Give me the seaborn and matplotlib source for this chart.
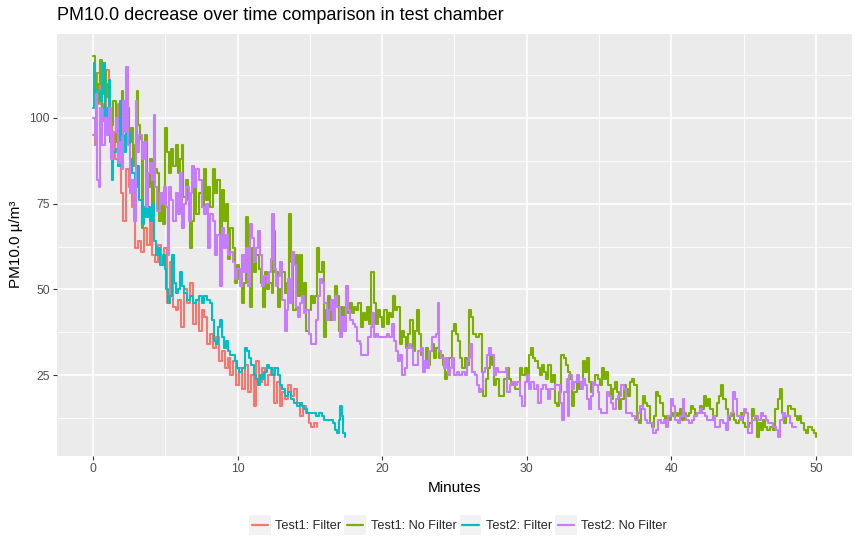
import numpy as np
import pandas as pd
import matplotlib
matplotlib.use("Agg")
import matplotlib.pyplot as plt
import seaborn as sns
from matplotlib.legend_handler import HandlerBase
from matplotlib.patches import Rectangle
from matplotlib.lines import Line2D

# ---------------- data ----------------
series_names = ["Test1: Filter", "Test1: No Filter", "Test2: Filter", "Test2: No Filter"]
series_colors = ["#F8766D", "#7CAE00", "#00BFC4", "#C77CFF"]

t1f_min = [0, 0.1, 0.3, 0.5, 0.7, 0.9, 1.1, 1.3, 1.5, 1.7, 1.9, 2.1, 2.3, 2.5, 2.7, 2.9, 3.1, 3.3, 3.5, 3.7,
           3.9, 4.1, 4.3, 4.5, 4.7, 4.9, 5.1, 5.3, 5.5, 5.7, 5.9, 6.1, 6.3, 6.5, 6.7, 6.9, 7.1, 7.3, 7.5, 7.7,
           7.9, 8.1, 8.3, 8.5, 8.7, 8.9, 9.1, 9.3, 9.5, 9.7, 9.9, 10.1, 10.3, 10.5, 10.7, 10.9, 11.1, 11.3, 11.5,
           11.7, 11.9, 12.1, 12.3, 12.5, 12.7, 12.9, 13.1, 13.3, 13.5, 13.7, 13.9, 14.1, 14.3, 14.5, 14.7, 14.9,
           15.1, 15.3, 15.5]
t1f_val = [95, 92, 113, 104, 99, 114, 103, 96, 88, 104, 78, 70, 85, 80, 74, 62, 64, 61, 68, 63,
           70, 60, 58, 63, 57, 62, 46, 58, 45, 44, 47, 39, 50, 46, 52, 40, 47, 38, 44, 42,
           34, 37, 33, 36, 29, 32, 27, 30, 25, 29, 22, 27, 21, 28, 20, 25, 16, 29, 23,
           27, 22, 25, 27, 17, 23, 16, 20, 18, 22, 19, 21, 17, 13, 16, 14, 11,
           10, 11, 10]

t1n_min = [0, 0.1, 0.2, 0.35, 0.5, 0.6, 0.8, 0.9, 1.0, 1.2, 1.4, 1.55, 1.7, 1.85, 2.0, 2.1, 2.3, 2.45, 2.6, 2.75,
           2.9, 3.0, 3.1, 3.25, 3.35, 3.45, 3.6, 3.75, 3.9, 4.05, 4.2, 4.4, 4.55, 4.7, 4.85, 5.0, 5.1, 5.25, 5.4,
           5.55, 5.7, 5.85, 6.0, 6.15, 6.25, 6.4, 6.55, 6.7, 6.85, 7.0, 7.15, 7.3, 7.5, 7.65, 7.8, 7.95, 8.1, 8.3,
           8.45, 8.6, 8.75, 8.9, 9.05, 9.2, 9.35, 9.5, 9.65, 9.8, 9.95, 10.1, 10.3, 10.45, 10.55, 10.7, 10.85, 11.0,
           11.15, 11.3, 11.45, 11.6, 11.75, 11.9, 12.05, 12.2, 12.35, 12.45, 12.6, 12.8, 12.95, 13.1, 13.25, 13.4,
           13.55, 13.7, 13.85, 14.0, 14.15, 14.3, 14.45, 14.6, 14.75, 14.9, 15.05, 15.2, 15.35, 15.5, 15.65, 15.8,
           15.95, 16.1, 16.25, 16.4, 16.55, 16.7, 16.85, 17.0, 17.15, 17.3, 17.45, 17.6, 17.75, 17.9, 18.05, 18.2,
           18.35, 18.5, 18.65, 18.8, 18.95, 19.1, 19.25, 19.4, 19.55, 19.7, 19.85, 20.0, 20.15, 20.3, 20.45, 20.6,
           20.75, 20.9, 21.05, 21.2, 21.35, 21.5, 21.65, 21.8, 21.95, 22.1, 22.25, 22.4, 22.55, 22.7, 22.85, 23.0,
           23.15, 23.3, 23.45, 23.6, 23.75, 23.9, 24.05, 24.2, 24.35, 24.5, 24.65, 24.8, 24.95, 25.1, 25.25, 25.4,
           25.55, 25.7, 25.85, 26.0, 26.15, 26.3, 26.5, 26.7, 26.9, 27.0, 27.15, 27.3, 27.45, 27.6, 27.75, 27.9,
           28.05, 28.25, 28.45, 28.6, 28.75, 28.9, 29.05, 29.2, 29.4, 29.55, 29.7, 29.85, 30.0, 30.15, 30.3, 30.45,
           30.6, 30.75, 30.9, 31.05, 31.2, 31.35, 31.5, 31.65, 31.8, 31.95, 32.1, 32.25, 32.4, 32.55, 32.7, 32.85,
           33.0, 33.15, 33.3, 33.45, 33.6, 33.75, 33.9, 34.05, 34.15, 34.3, 34.45, 34.6, 34.75, 34.9, 35.05, 35.2,
           35.35, 35.5, 35.65, 35.8, 35.95, 36.1, 36.25, 36.4, 36.55, 36.7, 36.85, 37.0, 37.15, 37.3, 37.45, 37.6,
           37.75, 37.9, 38.05, 38.2, 38.35, 38.5, 38.65, 38.8, 38.95, 39.1, 39.25, 39.4, 39.55, 39.7, 39.85, 40.0,
           40.15, 40.3, 40.45, 40.6, 40.75, 40.9, 41.05, 41.2, 41.35, 41.5, 41.65, 41.8, 41.95, 42.1, 42.25, 42.4,
           42.55, 42.7, 42.85, 43.0, 43.15, 43.3, 43.45, 43.6, 43.75, 43.9, 44.05, 44.2, 44.35, 44.5, 44.65, 44.8,
           44.95, 45.1, 45.25, 45.4, 45.6, 45.75, 45.9, 46.05, 46.2, 46.35, 46.5, 46.65, 46.85, 47.05, 47.2, 47.35,
           47.5, 47.65, 47.8, 47.95, 48.1, 48.25, 48.4, 48.55, 48.7, 48.85, 49.0, 49.15, 49.3, 49.45, 49.6, 49.75,
           49.9, 50.0]
t1n_val = [118, 113, 104, 110, 117, 103, 114, 106, 110, 98, 105, 93, 99, 103, 108, 100, 103, 93, 97, 86,
           92, 108, 98, 94, 68, 90, 95, 80, 88, 74, 85, 84, 70, 78, 69, 97, 90, 84, 91,
           86, 92, 84, 88, 92, 77, 82, 76, 62, 70, 82, 72, 78, 74, 85, 76, 80, 74, 85,
           78, 82, 66, 79, 70, 75, 59, 68, 62, 52, 57, 53, 46, 52, 71, 60, 45, 62,
           55, 60, 56, 52, 45, 55, 50, 52, 49, 67, 55, 45, 50, 55, 49, 52,
           72, 58, 44, 60, 48, 60, 47, 52, 38, 44, 48, 46, 48, 62, 55, 58,
           36, 44, 48, 41, 46, 51, 48, 38, 45, 40, 45, 43, 46, 43, 45, 44,
           46, 39, 43, 41, 45, 40, 55, 46, 40, 44, 42, 39, 44, 40, 43, 42,
           48, 44, 45, 34, 38, 36, 33, 37, 41, 32, 38, 44, 37, 31, 29, 33,
           28, 32, 34, 30, 33, 30, 31, 28, 24, 26, 30, 38, 40, 37, 35, 30,
           27, 30, 28, 44, 42, 37, 36, 37, 26, 19, 24, 27, 31, 28, 22, 24,
           19, 19, 24, 27, 24, 22, 23, 21, 21, 27, 25, 27, 24, 31, 33, 30,
           29, 27, 25, 28, 26, 24, 28, 23, 25, 17, 16, 20, 31, 30, 28, 26,
           24, 16, 20, 24, 21, 23, 29, 26, 30, 23, 20, 22, 25, 24, 22, 27,
           24, 26, 22, 18, 21, 23, 20, 15, 18, 22, 21, 19, 23, 24, 22, 12,
           11, 15, 19, 17, 16, 11, 10, 13, 20, 19, 17, 13, 11, 13, 12, 14,
           13, 14, 13, 15, 12, 14, 13, 14, 16, 15, 13, 14, 16, 15, 19, 16,
           18, 15, 12, 13, 17, 19, 22, 18, 15, 12, 13, 14, 12, 11, 12, 14,
           11, 10, 10, 11, 15, 13, 7, 11, 9, 12, 10, 9, 10, 9, 15, 18,
           21, 14, 11, 13, 16, 15, 15, 13, 12, 13, 11, 9, 8, 10, 10, 9,
           8, 7]

t2f_min = [0, 0.05, 0.15, 0.3, 0.45, 0.6, 0.7, 0.8, 0.95, 1.1, 1.2, 1.3, 1.4, 1.55, 1.7, 1.85, 2.0, 2.15, 2.25,
           2.4, 2.55, 2.7, 2.9, 3.05, 3.2, 3.35, 3.5, 3.65, 3.8, 3.95, 4.05, 4.2, 4.35, 4.5, 4.65, 4.8, 4.95, 5.05,
           5.15, 5.3, 5.45, 5.6, 5.7, 5.85, 6.0, 6.15, 6.3, 6.5, 6.7, 6.9, 7.1, 7.3, 7.5, 7.7, 7.9, 8.1, 8.2,
           8.35, 8.5, 8.65, 8.75, 8.9, 9.05, 9.2, 9.35, 9.5, 9.65, 9.8, 9.95, 10.1, 10.3, 10.5, 10.65, 10.8, 10.95,
           11.1, 11.25, 11.4, 11.55, 11.7, 11.85, 12.0, 12.2, 12.4, 12.6, 12.8, 12.95, 13.1, 13.3, 13.5, 13.7,
           13.9, 14.1, 14.3, 14.45, 14.6, 14.8, 15.0, 15.2, 15.4, 15.6, 15.8, 16.0, 16.2, 16.4, 16.6, 16.75,
           16.9, 17.0, 17.1, 17.2, 17.3, 17.4]
t2f_val = [103, 116, 104, 108, 105, 107, 116, 99, 103, 111, 93, 82, 90, 91, 86, 105, 95, 90, 103,
           96, 88, 84, 80, 86, 76, 69, 74, 71, 74, 70, 75, 64, 60, 62, 57, 60, 56, 50,
           46, 48, 60, 52, 49, 50, 55, 51, 49, 47, 48, 46, 47, 48, 46, 48, 47, 46, 41,
           35, 34, 39, 41, 36, 33, 35, 32, 31, 31, 29, 27, 26, 27, 33, 32, 30, 28,
           25, 24, 22, 25, 24, 26, 28, 27, 25, 27, 25, 22, 21, 19, 20, 18,
           17, 16, 17, 16, 15, 14, 14, 14, 13, 14, 13, 12, 12, 12, 11, 9,
           8, 12, 16, 13, 8, 7]

t2n_min = [0, 0.1, 0.2, 0.3, 0.4, 0.5, 0.6, 0.8, 0.95, 1.1, 1.25, 1.4, 1.55, 1.7, 1.85, 2.0, 2.1, 2.2, 2.3,
           2.4, 2.55, 2.7, 2.85, 2.95, 3.05, 3.2, 3.35, 3.5, 3.65, 3.8, 3.95, 4.1, 4.2, 4.3, 4.45, 4.6, 4.75,
           4.9, 5.05, 5.15, 5.25, 5.4, 5.55, 5.7, 5.85, 6.0, 6.15, 6.3, 6.45, 6.6, 6.75, 6.85, 7.0, 7.15, 7.3,
           7.5, 7.65, 7.8, 7.95, 8.1, 8.3, 8.45, 8.6, 8.75, 8.9, 9.05, 9.2, 9.35, 9.5, 9.65, 9.8, 9.95, 10.15,
           10.3, 10.45, 10.6, 10.7, 10.85, 11.0, 11.1, 11.25, 11.4, 11.55, 11.7, 11.85, 12.0, 12.15, 12.3, 12.4,
           12.5, 12.65, 12.8, 12.95, 13.1, 13.25, 13.4, 13.5, 13.65, 13.75, 13.9, 14.0, 14.15, 14.3, 14.45, 14.6,
           14.75, 14.9, 15.05, 15.25, 15.45, 15.55, 15.7, 15.85, 16.0, 16.15, 16.3, 16.45, 16.6, 16.75, 16.9,
           17.05, 17.2, 17.35, 17.5, 17.6, 17.75, 17.95, 18.1, 18.25, 18.45, 18.55, 18.95, 19.05, 19.2, 19.3,
           19.4, 19.55, 19.7, 20.2, 20.35, 20.5, 20.65, 20.8, 20.95, 21.1, 21.25, 21.4, 21.55, 21.7, 21.85, 22.0,
           22.15, 22.4, 22.5, 22.65, 22.8, 22.95, 23.1, 23.25, 23.45, 23.6, 23.75, 23.85, 23.95, 24.1, 24.25,
           24.4, 24.55, 24.7, 24.85, 24.95, 25.15, 25.3, 25.5, 25.7, 25.85, 26.0, 26.1, 26.2, 26.4, 26.55, 26.7,
           26.85, 26.95, 27.1, 27.25, 27.4, 27.55, 27.7, 27.85, 28.0, 28.2, 28.4, 28.55, 28.65, 28.85, 29.0,
           29.2, 29.35, 29.55, 29.7, 29.85, 30.0, 30.15, 30.3, 30.5, 30.7, 30.8, 30.95, 31.15, 31.3, 31.45,
           31.6, 31.8, 31.95, 32.1, 32.3, 32.45, 32.6, 32.75, 32.85, 32.95, 33.1, 33.25, 33.45, 33.6, 33.75,
           33.9, 34.05, 34.2, 34.3, 34.45, 34.6, 34.75, 34.9, 35.0, 35.15, 35.35, 35.55, 35.7, 35.85, 36.0,
           36.15, 36.3, 36.5, 36.7, 36.85, 37.05, 37.3, 37.5, 37.7, 37.85, 38.05, 38.2, 38.35, 38.55, 38.7,
           38.95, 39.1, 39.3, 39.5, 39.65, 39.8, 39.95, 40.1, 40.25, 40.45, 40.6, 40.8, 40.9, 41.05, 41.25,
           41.4, 41.6, 41.8, 42.0, 42.15, 42.3, 42.45, 42.65, 42.85, 43.05, 43.2, 43.4, 43.6, 43.8, 43.95,
           44.1, 44.25, 44.4, 44.55, 44.75, 44.9, 45.05, 45.2, 45.3, 45.5, 45.6, 45.8, 46.0, 46.2, 46.35,
           46.55, 46.7, 46.9, 47.05, 47.25, 47.4, 47.55, 47.7, 47.85, 48.0, 48.2, 48.35, 48.6]
t2n_val = [100, 94, 107, 82, 80, 103, 92, 100, 95, 103, 88, 96, 100, 87, 93, 85, 105, 96, 115,
           92, 78, 82, 70, 105, 90, 95, 88, 93, 74, 84, 87, 82, 101, 80, 73, 78, 75,
           80, 74, 60, 80, 76, 70, 78, 72, 84, 68, 75, 80, 70, 78, 86, 80, 85, 82,
           74, 72, 75, 62, 72, 70, 60, 66, 51, 68, 62, 66, 60, 61, 58, 53, 56, 51,
           60, 55, 62, 51, 69, 65, 58, 62, 67, 60, 51, 54, 52, 55, 59, 72,
           56, 51, 54, 58, 47, 38, 44, 53, 46, 61, 57, 45, 42, 46, 48, 43,
           44, 37, 34, 34, 41, 48, 53, 52, 46, 41, 44, 47, 41, 48, 45,
           36, 42, 38, 51, 44, 41, 40, 39, 35, 34, 31, 31, 36, 39, 43,
           36, 37, 36, 36, 37, 36, 40, 35, 32, 29, 31, 25, 27, 33, 34, 33,
           28, 28, 32, 33, 26, 29, 27, 32, 36, 36, 37, 46, 32, 30, 27,
           30, 25, 27, 30, 25, 26, 25, 26, 25, 29, 30, 34, 26, 25, 22, 20,
           21, 26, 27, 31, 33, 31, 25, 27, 26, 26, 26, 27, 20, 22, 23,
           22, 23, 19, 16, 23, 25, 21, 23, 21, 22, 17, 21, 22, 21, 18,
           21, 21, 22, 22, 17, 12, 20, 24, 13, 25, 21, 23, 25, 23, 21,
           24, 22, 18, 15, 19, 23, 22, 20, 15, 14, 14, 20, 19, 17, 15,
           18, 19, 22, 21, 14, 14, 13, 12, 14, 16, 15, 12, 11, 11, 8,
           9, 12, 11, 12, 10, 13, 18, 16, 12, 11, 13, 18, 13, 12, 11,
           12, 13, 14, 15, 14, 13, 12, 12, 13, 10, 10, 12, 11, 9, 13,
           14, 20, 18, 13, 12, 13, 15, 14, 8, 8, 12, 13, 12, 14, 13,
           12, 11, 11, 10, 9, 7, 12, 14, 13, 13, 11, 10, 10]

frames = []
for name, t, v in zip(series_names,
                      [t1f_min, t1n_min, t2f_min, t2n_min],
                      [t1f_val, t1n_val, t2f_val, t2n_val]):
    frames.append(pd.DataFrame({"Minutes": t, "PM10": v, "Test": name}))
df = pd.concat(frames, ignore_index=True)

x_major = [0, 10, 20, 30, 40, 50]
x_minor = [5, 15, 25, 35, 45]
y_major = [25, 50, 75, 100]
y_minor = [12.5, 37.5, 62.5, 87.5, 112.5]

# ---------------- style ----------------
sns.set_theme(style="darkgrid")
plt.rcParams["font.family"] = ["Liberation Sans", "DejaVu Sans"]

W, H = 861, 552
fig = plt.figure(figsize=(W / 100, H / 100), dpi=100)
ax = fig.add_axes([57 / W, 1 - 456 / H, (852 - 57) / W, (456 - 33.6) / H])
ax.set_facecolor("#EBEBEB")

palette = dict(zip(series_names, series_colors))
sns.lineplot(data=df, x="Minutes", y="PM10", hue="Test", hue_order=series_names,
             palette=palette, estimator=None, sort=False, units="Test",
             drawstyle="steps-post", linewidth=1.5, legend=False, ax=ax)

ax.set_xlim(-2.5, 52.5)
ax.set_ylim(1.4, 124.6)
ax.set_xticks(x_major)
ax.set_xticks(x_minor, minor=True)
ax.set_yticks(y_major)
ax.set_yticks(y_minor, minor=True)
ax.set_xticklabels([str(v) for v in x_major])
ax.set_yticklabels([str(v) for v in y_major])
ax.grid(True, which="major", color="white", linewidth=1.1)
ax.grid(True, which="minor", color="white", linewidth=0.55)
ax.set_axisbelow(True)
for s in ax.spines.values():
    s.set_visible(False)
ax.tick_params(axis="both", which="major", length=3, width=0.8, color="#333333",
               labelsize=8.8, labelcolor="#4D4D4D", pad=2, bottom=True, left=True)
ax.tick_params(axis="both", which="minor", length=0)

ax.set_xlabel("Minutes", fontsize=11, color="black", labelpad=4)
ax.set_ylabel("PM10.0 µ/m³", fontsize=11, color="black", labelpad=5)

fig.text(57 / W, 1 - 15 / H, "PM10.0 decrease over time comparison in test chamber",
         fontsize=13, color="black", ha="left", va="center")


class KeyHandler(HandlerBase):
    def create_artists(self, legend, orig_handle, xdescent, ydescent, width, height,
                       fontsize, trans):
        pad = 4
        r = Rectangle((-xdescent, -ydescent - pad), width, height + 2 * pad,
                      facecolor="#F2F2F2", edgecolor="none", transform=trans)
        y = -ydescent + height / 2
        ln = Line2D([-xdescent + 2, -xdescent + width - 2], [y, y],
                    color=orig_handle.get_color(), linewidth=1.6, transform=trans)
        return [r, ln]


handles = [Line2D([0], [0], color=c) for c in series_colors]
leg = fig.legend(handles, series_names, loc="center", bbox_to_anchor=(458 / W, 1 - 526 / H),
                 ncol=4, frameon=False, fontsize=9.2, handlelength=1.7, handletextpad=0.35,
                 columnspacing=0.25, handler_map={Line2D: KeyHandler()})

fig.savefig("out.png", dpi=100)
